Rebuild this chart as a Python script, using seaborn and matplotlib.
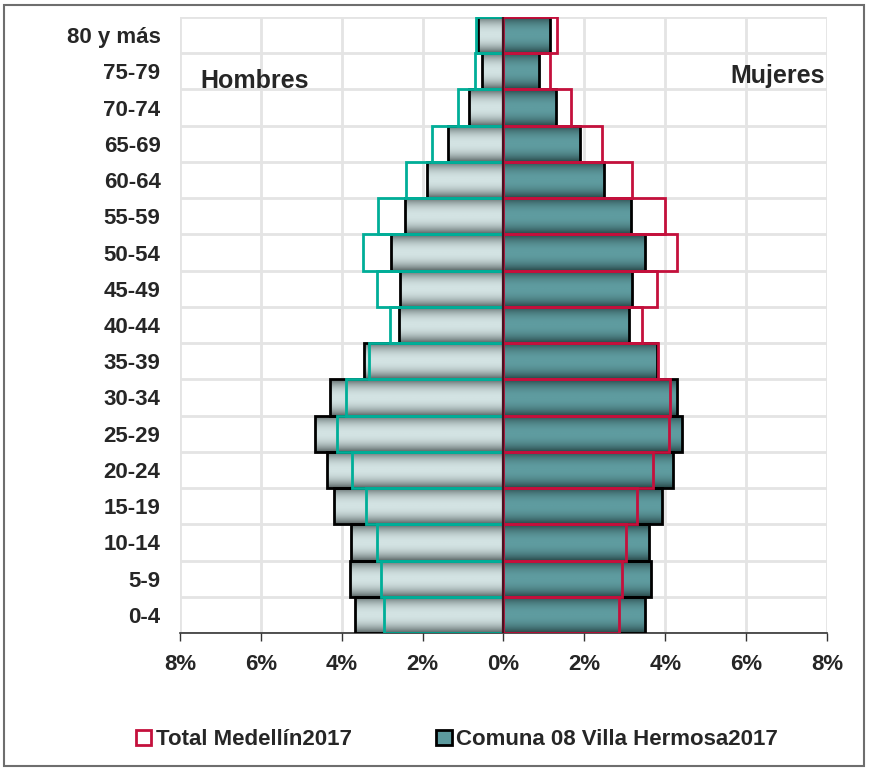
import numpy as np
import pandas as pd
import seaborn as sns
import matplotlib
matplotlib.use("Agg")
import matplotlib.pyplot as plt
from matplotlib.colors import LinearSegmentedColormap
from matplotlib.patches import Patch, Rectangle

# age groups, youngest first
edades = ["0-4", "5-9", "10-14", "15-19", "20-24", "25-29", "30-34", "35-39",
          "40-44", "45-49", "50-54", "55-59", "60-64", "65-69", "70-74",
          "75-79", "80 y más"]
# Comuna 08 Villa Hermosa 2017 (% of population)
comuna_hombres = [3.66, 3.80, 3.76, 4.18, 4.36, 4.66, 4.30, 3.46, 2.58, 2.55,
                  2.77, 2.43, 1.88, 1.38, 0.86, 0.53, 0.64]
comuna_mujeres = [3.51, 3.65, 3.59, 3.93, 4.20, 4.41, 4.28, 3.80, 3.11, 3.19,
                  3.50, 3.15, 2.49, 1.89, 1.29, 0.88, 1.15]
# Total Medellín 2017 (% of population)
medellin_hombres = [2.95, 3.03, 3.14, 3.41, 3.74, 4.12, 3.89, 3.32, 2.81, 3.12,
                    3.47, 3.10, 2.40, 1.76, 1.13, 0.70, 0.68]
medellin_mujeres = [2.86, 2.94, 3.02, 3.29, 3.70, 4.09, 4.12, 3.83, 3.42, 3.79,
                    4.30, 4.00, 3.18, 2.43, 1.66, 1.15, 1.33]
x_ticks = [-8, -6, -4, -2, 0, 2, 4, 6, 8]


def long_table(hombres, mujeres):
    return pd.DataFrame({
        "edad": edades * 2,
        "pct": [-v for v in hombres] + list(mujeres),
        "sexo": ["Hombres"] * len(edades) + ["Mujeres"] * len(edades),
    })


def shade_bar(ax, patch, edge, mid):
    cmap = LinearSegmentedColormap.from_list("", [edge, mid])
    s = np.linspace(-1, 1, 80)
    grad = (1 - np.abs(s) ** 2.2).reshape(-1, 1)
    x0, y0 = patch.get_x(), patch.get_y()
    w, h = patch.get_width(), patch.get_height()
    im = ax.imshow(grad, extent=[x0, x0 + w, y0 + h, y0], aspect="auto",
                   cmap=cmap, vmin=0, vmax=1, zorder=2, interpolation="bilinear")
    im.set_clip_path(patch)


sns.set_style("white")
plt.rcParams["font.family"] = ["Liberation Sans", "DejaVu Sans"]
plt.rcParams["font.weight"] = "bold"

fig = plt.figure(figsize=(8.72, 7.7), dpi=100)
ax = fig.add_axes([0.2064, 0.1779, 0.742, 0.8])

comuna = long_table(comuna_hombres, comuna_mujeres)
medellin = long_table(medellin_hombres, medellin_mujeres)
order = edades[::-1]

sns.barplot(data=comuna, x="pct", y="edad", hue="sexo", order=order,
            dodge=False, width=1.0, palette=["#c9dada", "#5c9a9e"],
            edgecolor="black", linewidth=2, legend=False, ax=ax)
bars = list(ax.patches)
for p in bars:
    if p.get_width() < 0:
        shade_bar(ax, p, "#586464", "#d3e3e3")
    else:
        shade_bar(ax, p, "#284748", "#5f9ca0")
    p.set_facecolor("none")
    p.set_zorder(3)

sns.barplot(data=medellin, x="pct", y="edad", hue="sexo", order=order,
            dodge=False, width=1.0, fill=False, palette=["#00ae98", "#c4103c"],
            linewidth=2, legend=False, ax=ax)
for p in ax.patches[len(bars):]:
    p.set_zorder(4)

# dark joint where both sides meet
ax.axvline(0, color="#4a1020", lw=1.6, zorder=5)

ax.set_xlim(-8, 8)
ax.set_ylim(len(edades) - 0.5, -0.5)
ax.set_xticks(x_ticks)
ax.set_xticklabels([f"{abs(t)}%" for t in x_ticks], fontsize=16, fontweight="bold")
ax.set_yticks(range(len(order)))
ax.set_yticklabels(order, fontsize=16, fontweight="bold")
ax.set_yticks(np.arange(-0.5, len(edades), 1), minor=True)
ax.set_xlabel("")
ax.set_ylabel("")

ax.grid(False)
ax.grid(axis="x", which="major", color="#e4e4e4", lw=2, zorder=0)
ax.grid(axis="y", which="minor", color="#e4e4e4", lw=2, zorder=0)
ax.set_axisbelow(True)
ax.tick_params(axis="y", which="both", length=0, pad=14)
ax.tick_params(axis="x", which="major", length=6, width=1, color="#333333",
               direction="out", pad=9, bottom=True)
for side in ["left", "right", "top"]:
    ax.spines[side].set_visible(False)
ax.spines["bottom"].set_color("#333333")
ax.spines["bottom"].set_linewidth(1.2)

ax.text(0.031, 0.896, "Hombres", transform=ax.transAxes, fontsize=18,
        fontweight="bold", ha="left", va="center")
ax.text(0.997, 0.904, "Mujeres", transform=ax.transAxes, fontsize=18,
        fontweight="bold", ha="right", va="center")

handles = [
    Patch(facecolor="white", edgecolor="#c4103c", linewidth=2,
          label="Total Medellín2017"),
    Patch(facecolor="#5c9a9e", edgecolor="black", linewidth=2,
          label="Comuna 08 Villa Hermosa2017"),
]
fig.legend(handles=handles, loc="center", bbox_to_anchor=(0.524, 0.039),
           ncol=2, frameon=False, prop={"size": 16, "weight": "bold"},
           handlelength=0.7, handleheight=0.7, handletextpad=0.2,
           columnspacing=3.8)

fig.patches.append(Rectangle((4 / 872, 4 / 770), 860 / 872, 761 / 770,
                             transform=fig.transFigure, fill=False,
                             edgecolor="#6e6e6e", linewidth=1.5))

fig.savefig("out.png", dpi=100)
